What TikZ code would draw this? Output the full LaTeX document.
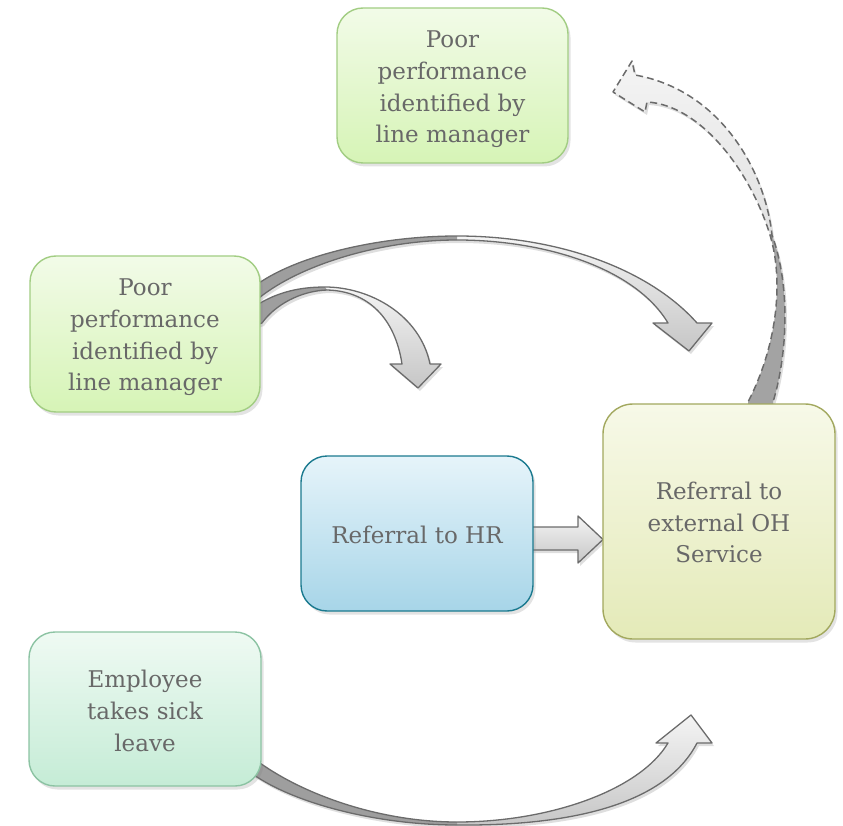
\documentclass[tikz,border=0pt]{standalone}
\usepackage{fontspec}
\setmainfont{DejaVu Serif}
\usetikzlibrary{shadows}
\definecolor{txtcol}{HTML}{686868}
\definecolor{gTop}{HTML}{F2FBE8}
\definecolor{gBot}{HTML}{D6F4B6}
\definecolor{gLine}{HTML}{A2CD83}
\definecolor{bTop}{HTML}{E6F4FA}
\definecolor{bBot}{HTML}{A7D5E8}
\definecolor{bLine}{HTML}{1B7A8F}
\definecolor{oTop}{HTML}{F7F9E8}
\definecolor{oBot}{HTML}{E4EAB8}
\definecolor{oLine}{HTML}{A2A85E}
\definecolor{mTop}{HTML}{EFFAF3}
\definecolor{mBot}{HTML}{C5ECD6}
\definecolor{mLine}{HTML}{8CC3A3}
\definecolor{arLine}{HTML}{6B6B6B}
\definecolor{arTop}{HTML}{F4F4F4}
\definecolor{arBot}{HTML}{C6C6C6}
\definecolor{arBack}{HTML}{9E9E9E}
\newcommand\pathAone{(245,292) -- (259,283) .. controls (300,255) and (380,236) .. (457,236) .. controls (560,236) and (650,270) .. (697,323) -- (712,323) -- (689,351) -- (653,323) -- (668,323) .. controls (635,268) and (545,240) .. (457,240) .. controls (380,240) and (300,265) .. (259,298) -- (245,306) -- cycle}
\newcommand\backAone{(245,292) -- (259,283) .. controls (300,255) and (380,236) .. (457,236) -- (457,240) .. controls (380,240) and (300,265) .. (259,298) -- (245,306) -- cycle}
\newcommand\pathAtwo{(248,310) -- (262,302) .. controls (280,292) and (300,287) .. (325,287) .. controls (370,287) and (420,315) .. (430,364) -- (441,364) -- (418,388) -- (390,364) -- (402,364) .. controls (395,318) and (368,291) .. (327,290) .. controls (300,291) and (275,305) .. (262,323) -- (248,328) -- cycle}
\newcommand\backAtwo{(248,310) -- (262,302) .. controls (280,292) and (300,287) .. (325,287) -- (327,290) .. controls (300,291) and (275,305) .. (262,323) -- (248,328) -- cycle}
\newcommand\pathAthree{(748,412) -- (748,402) .. controls (775,350) and (785,285) .. (770,235) .. controls (750,170) and (700,105) .. (647,102) -- (645,112) -- (613,92) -- (632,61) -- (635,75) .. controls (720,90) and (765,170) .. (772,235) .. controls (792,290) and (786,360) .. (773,402) -- (773,412) -- cycle}
\newcommand\backAthree{(748,412) -- (748,402) .. controls (775,350) and (785,285) .. (770,235) -- (772,235) .. controls (792,290) and (786,360) .. (773,402) -- (773,412) -- cycle}
\newcommand\pathAfour{(245,770) -- (257,777) .. controls (300,805) and (380,825) .. (457,825) .. controls (570,826) and (665,805) .. (697,743) -- (712,743) -- (691,715) -- (656,743) -- (668,743) .. controls (640,790) and (550,822) .. (457,822) .. controls (380,822) and (305,795) .. (260,763) -- (245,755) -- cycle}
\newcommand\backAfour{(245,770) -- (257,777) .. controls (300,805) and (380,825) .. (457,825) -- (457,822) .. controls (380,822) and (305,795) .. (260,763) -- (245,755) -- cycle}
\newcommand\pathAfive{(525,527) -- (578,527) -- (578,516) -- (603,539.5) -- (578,563) -- (578,550) -- (525,550) -- cycle}
\tikzset{
  boxbase/.style={draw, line width=1.4pt, rounded corners=26pt, inner sep=0pt,
    drop shadow={opacity=0.22, shadow xshift=2.5pt, shadow yshift=-3.5pt}},
  boxtext/.style={align=center, text=txtcol, font=\fontsize{23}{31.7}\selectfont, inner sep=0pt},
  greenbox/.style={boxbase, draw=gLine, top color=gTop, bottom color=gBot},
  bluebox/.style={boxbase, draw=bLine, top color=bTop, bottom color=bBot},
  olivebox/.style={boxbase, draw=oLine, top color=oTop, bottom color=oBot, rounded corners=30pt},
  mintbox/.style={boxbase, draw=mLine, top color=mTop, bottom color=mBot},
  arshadow/.style={fill=black, opacity=0.13, shift={(2,3)}},
  arfront/.style={top color=arTop, bottom color=arBot},
  arback/.style={fill=arBack},
  aroutline/.style={draw=arLine, line width=1.3pt, line join=round},
  ardashed/.style={draw=arLine, line width=1.5pt, dash pattern=on 7pt off 4pt, line join=round}
}
\begin{document}
\begin{tikzpicture}[x=1pt,y=-1pt]
\useasboundingbox (0,0) rectangle (843,826);
% curved arrows (behind boxes)
\fill[arshadow] \pathAone;
\path[arfront] \pathAone;
\fill[arback] \backAone;
\draw[aroutline] \pathAone;
\fill[arshadow] \pathAtwo;
\path[arfront] \pathAtwo;
\fill[arback] \backAtwo;
\draw[aroutline] \pathAtwo;
\fill[arshadow] \pathAthree;
\path[top color=arTop, bottom color=arBot!85] \pathAthree;
\fill[arBack!95!white] \backAthree;
\draw[ardashed] \pathAthree;
\fill[arshadow] \pathAfour;
\path[arfront] \pathAfour;
\fill[arback] \backAfour;
\draw[aroutline] \pathAfour;
\fill[arshadow] \pathAfive;
\path[arfront] \pathAfive;
\draw[aroutline] \pathAfive;
% boxes
\node[greenbox, minimum width=231pt, minimum height=155pt] (top) at (452.5,85.5) {};
\node[boxtext] (topT) at ([yshift=-4pt]top.center) {Poor\\performance\\identified by\\line manager};
\node[greenbox, minimum width=230pt, minimum height=156pt] (left) at (145,334) {};
\node[boxtext] (leftT) at ([yshift=-3.5pt]left.center) {Poor\\performance\\identified by\\line manager};
\node[bluebox, minimum width=232pt, minimum height=155pt] (hr) at (417,533.5) {};
\node[boxtext] (hrT) at ([yshift=-1pt]hr.center) {Referral to HR};
\node[olivebox, minimum width=232pt, minimum height=235pt] (oh) at (719,521.5) {};
\node[boxtext] (ohT) at ([yshift=-1pt]oh.center) {Referral to\\external OH\\Service};
\node[mintbox, minimum width=232pt, minimum height=154pt] (emp) at (145,709) {};
\node[boxtext] (empT) at ([yshift=-2pt]emp.center) {Employee\\takes sick\\leave};
\end{tikzpicture}
\end{document}
